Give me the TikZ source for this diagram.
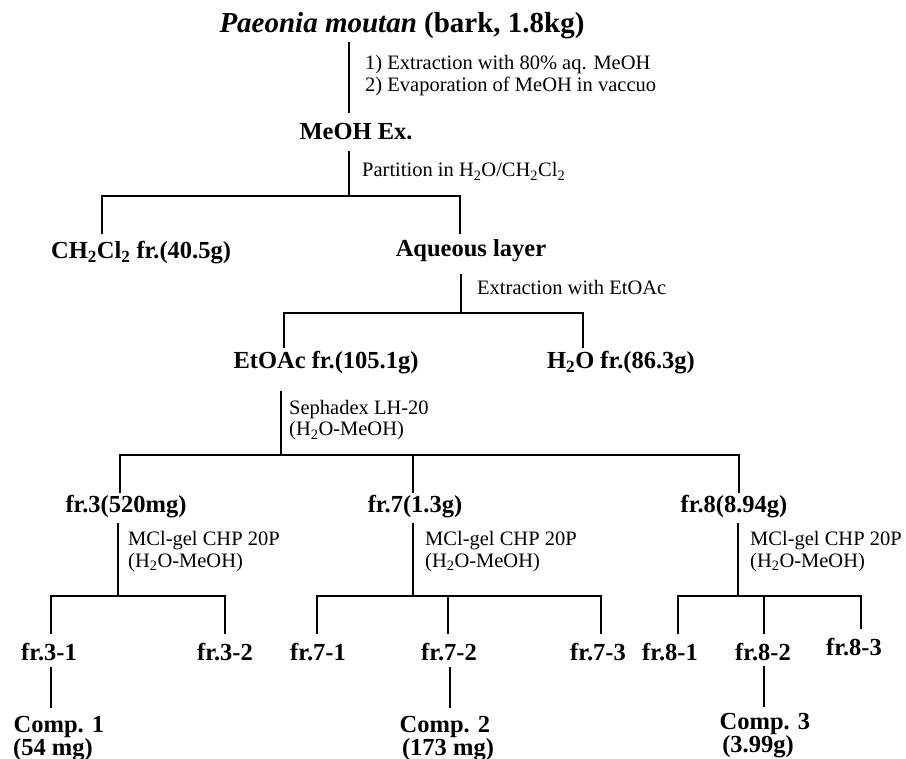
\documentclass[tikz,border=0pt]{standalone}
\usepackage{fontspec}
\setmainfont{Liberation Serif}
\tikzset{
  big/.style={font=\fontsize{24.5}{26}\selectfont\bfseries, inner sep=0pt, anchor=base},
  ttl/.style={font=\fontsize{29}{32}\selectfont\bfseries, inner sep=0pt, anchor=base},
  small/.style={font=\fontsize{20.5}{22}\selectfont, inner sep=0pt, anchor=base west},
  ln/.style={line width=2.4pt, line cap=rect},
}
\begin{document}
\begin{tikzpicture}[x=1pt,y=-1pt]
\useasboundingbox (0,0) rectangle (906,759);
% ---- text nodes
\node[ttl] (title) at (402,33) {\textit{Paeonia moutan} (bark, 1.8kg)};
\node[small] (l1) at (365,70) {1) Extraction with 80\% aq. MeOH};
\node[small] (l2) at (365,92) {2) Evaporation of MeOH in vaccuo};
\node[big] (meoh) at (356,140) {MeOH Ex.};
\node[small] (part) at (362,177) {Partition in H\textsubscript{2}O/CH\textsubscript{2}Cl\textsubscript{2}};
\node[big] (dcm) at (141,259) {CH\textsubscript{2}Cl\textsubscript{2} fr.(40.5g)};
\node[big] (aq) at (471,257) {Aqueous layer};
\node[small] (ext) at (477,295) {Extraction with EtOAc};
\node[big] (etoac) at (326,369) {EtOAc fr.(105.1g)};
\node[big] (h2o) at (621,369) {H\textsubscript{2}O fr.(86.3g)};
\node[small] (seph) at (289,415) {Sephadex LH-20};
\node[small] (seph2) at (289,436) {(H\textsubscript{2}O-MeOH)};
\node[big] (f3) at (126,513) {fr.3(520mg)};
\node[big] (f7) at (415,513) {fr.7(1.3g)};
\node[big] (f8) at (734,513) {fr.8(8.94g)};
\node[small] (m3) at (128,545) {MCl-gel CHP 20P};
\node[small] (m3b) at (128,567) {(H\textsubscript{2}O-MeOH)};
\node[small] (m7) at (425,545) {MCl-gel CHP 20P};
\node[small] (m7b) at (425,567) {(H\textsubscript{2}O-MeOH)};
\node[small] (m8) at (750,545) {MCl-gel CHP 20P};
\node[small] (m8b) at (750,567) {(H\textsubscript{2}O-MeOH)};
\node[big] (f31) at (49,660) {fr.3-1};
\node[big] (f32) at (225,660) {fr.3-2};
\node[big] (f71) at (318,660) {fr.7-1};
\node[big] (f72) at (449,660) {fr.7-2};
\node[big] (f73) at (598,660) {fr.7-3};
\node[big] (f81) at (670,660) {fr.8-1};
\node[big] (f82) at (763,660) {fr.8-2};
\node[big] (f83) at (854,655) {fr.8-3};
\node[big] (c1) at (59,732) {Comp. 1};
\node[big] (c1w) at (53,755) {(54 mg)};
\node[big] (c2) at (445,732) {Comp. 2};
\node[big] (c2w) at (448,755) {(173 mg)};
\node[big] (c3) at (765,729) {Comp. 3};
\node[big] (c3w) at (758,752) {(3.99g)};
% ---- junction coordinates
\coordinate (s1a) at (349,43);  \coordinate (s1b) at (349,112);
\coordinate (s2a) at (349,152); \coordinate (b1) at (349,196);
\coordinate (b1l) at (102,196); \coordinate (b1r) at (460,196);
\coordinate (b1le) at (102,233); \coordinate (b1re) at (460,233);
\coordinate (s3a) at (461,275); \coordinate (b2) at (461,313);
\coordinate (b2l) at (284,313); \coordinate (b2r) at (583,313);
\coordinate (b2le) at (284,347); \coordinate (b2re) at (583,347);
\coordinate (s4a) at (281,392); \coordinate (b3) at (281,455);
\coordinate (b3l) at (120,455); \coordinate (b3m) at (413,455); \coordinate (b3r) at (739,455);
\coordinate (b3le) at (120,492); \coordinate (b3me) at (413,492); \coordinate (b3re) at (739,492);
\coordinate (s5a) at (118,524); \coordinate (b4a) at (118,596);
\coordinate (s6a) at (413,524); \coordinate (b4b) at (413,596);
\coordinate (s7a) at (738,524); \coordinate (b4c) at (738,596);
\coordinate (a1) at (51,596);  \coordinate (a2) at (225,596);
\coordinate (a1e) at (51,633); \coordinate (a2e) at (225,633);
\coordinate (b1x) at (317,596); \coordinate (b2x) at (448,596); \coordinate (b3x) at (601,596);
\coordinate (b1xe) at (317,633); \coordinate (b2xe) at (448,633); \coordinate (b3xe) at (601,633);
\coordinate (c1x) at (678,596); \coordinate (c2x) at (764,596); \coordinate (c3x) at (861,596);
\coordinate (c1xe) at (678,633); \coordinate (c2xe) at (764,633); \coordinate (c3xe) at (861,628);
\coordinate (k1a) at (51,668);  \coordinate (k1b) at (51,707);
\coordinate (k2a) at (450,668); \coordinate (k2b) at (450,707);
\coordinate (k3a) at (764,667); \coordinate (k3b) at (764,706);
% ---- connectors
\draw[ln] (s1a) -- (s1b);
\draw[ln] (s2a) -- (b1);
\draw[ln] (b1le) -- (b1l) -- (b1r) -- (b1re);
\draw[ln] (s3a) -- (b2);
\draw[ln] (b2le) -- (b2l) -- (b2r) -- (b2re);
\draw[ln] (s4a) -- (b3);
\draw[ln] (b3le) -- (b3l) -- (b3r) -- (b3re);
\draw[ln] (b3m) -- (b3me);
\draw[ln] (s5a) -- (b4a);
\draw[ln] (s6a) -- (b4b);
\draw[ln] (s7a) -- (b4c);
\draw[ln] (a1e) -- (a1) -- (a2) -- (a2e);
\draw[ln] (b1xe) -- (b1x) -- (b3x) -- (b3xe);
\draw[ln] (b2x) -- (b2xe);
\draw[ln] (c1xe) -- (c1x) -- (c3x) -- (c3xe);
\draw[ln] (c2x) -- (c2xe);
\draw[ln] (k1a) -- (k1b);
\draw[ln] (k2a) -- (k2b);
\draw[ln] (k3a) -- (k3b);
\end{tikzpicture}
\end{document}
